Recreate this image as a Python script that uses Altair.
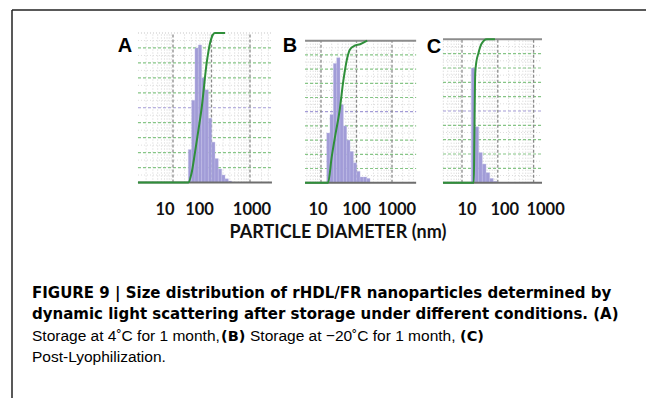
import altair as alt
import pandas as pd

W, H = 638, 390

# ---------------- data ----------------
# Panel A : 4 C for 1 month
A_edges = [25.0, 30.5, 37.2, 45.5, 55.5, 67.8, 82.8, 101, 123, 150, 184, 224, 274, 334]
A_heights = [22, 55, 90, 92, 70, 62, 43, 27, 16, 9, 5, 2.5, 1]
A_curve_x = [1.23, 25.0, 30.2, 37.2, 45.7, 55.6, 75.0, 91.2, 104.7, 123, 224]
A_curve_y = [0, 0, 6, 20, 35, 50, 80, 93, 98, 100, 100]

# Panel B : -20 C for 1 month
B_edges = [14.5, 17.9, 22.3, 27.7, 34.3, 42.6, 52.9, 65.6, 81.5, 101, 126, 156, 194, 240]
B_heights = [35, 48, 84, 88, 55, 40, 30, 22, 14, 8, 4, 4, 3]
B_curve_x = [3.55, 15.8, 20.0, 25.1, 33.1, 42.7, 55.0, 66.1, 89.1, 126, 200]
B_curve_y = [0, 0, 18, 33, 50, 72, 88, 94, 96.5, 97.5, 100]

# Panel C : post-lyophilization
C_edges = [18.2, 23.1, 29.2, 36.9, 46.8, 59.4, 74.8, 95.1]
C_heights = [80, 39, 21, 13, 7, 3, 1]
C_curve_x = [2.95, 21.4, 22.1, 23.4, 25.1, 28.5, 35.5, 49.0, 83.2]
C_curve_y = [0, 0, 30, 76, 84, 90, 97, 100, 100]

tick_values = [10, 100, 1000]
tick_labels = ["10", "100", "1000"]

caption_bold_1 = "FIGURE 9 | Size distribution of rHDL/FR nanoparticles determined by"
caption_bold_2 = "dynamic light scattering after storage under different conditions. (A)"
caption_3 = ["Storage at 4\u02daC for 1 month,", "(B)", "Storage at \u221220\u02daC for 1 month,", "(C)"]
caption_4 = "Post-Lyophilization."
x_title = "PARTICLE DIAMETER (nm)"

GREEN = "#2f8f3a"
BAR = "#a19cd7"


def panel(edges, heights, cx, cy, lo, hi, xr, yr, dxs, top_color, top_width, top_dash):
    xs = alt.Scale(type="log", domain=[1, 10000], range=xr)
    ys = alt.Scale(domain=[0, 100], range=yr)

    major_v = [v for v in [1, 10, 100, 1000, 10000] if lo <= v <= hi]
    minor_v = [k * 10 ** d for d in range(0, 4) for k in range(2, 10) if lo <= k * 10 ** d <= hi]

    def vrules(vals, color, dash, width):
        df = pd.DataFrame({"v": vals, "y0": 0, "y1": 100})
        return alt.Chart(df).mark_rule(color=color, strokeDash=dash, strokeWidth=width).encode(
            x=alt.X("v:Q", scale=xs, axis=None),
            y=alt.Y("y0:Q", scale=ys, axis=None),
            y2="y1:Q",
        )

    def hrules(vals, color, dash, width):
        df = pd.DataFrame({"h": vals, "lo": lo, "hi": hi})
        return alt.Chart(df).mark_rule(color=color, strokeDash=dash, strokeWidth=width).encode(
            x=alt.X("lo:Q", scale=xs, axis=None),
            x2="hi:Q",
            y=alt.Y("h:Q", scale=ys, axis=None),
        )

    minor = vrules(minor_v, "#d2d2d2", [1, 2], 1)
    major = vrules(major_v, "#8a8a8a", [3, 2], 1.3)
    h_minor = hrules([5, 15, 25, 35, 45, 55, 65, 75, 85, 95], "#dddddd", [1, 2], 1)
    h_green = hrules([10, 20, 30, 40, 60, 70, 80, 90], "#86c586", [3, 2], 1.2)
    h_mid = hrules([50], "#a39bd6", [3, 2], 1.2)
    top = hrules([100], top_color, top_dash, top_width)
    base = hrules([0], "#6e6e6e", [1, 0], 2)

    bars_df = pd.DataFrame({"x0": edges[:-1], "x1": edges[1:], "h": heights, "z": 0})
    bars = alt.Chart(bars_df).mark_rect(fill=BAR, stroke="#c2bfe8", strokeWidth=0.4).encode(
        x=alt.X("x0:Q", scale=xs, axis=None),
        x2="x1:Q",
        y=alt.Y("z:Q", scale=ys, axis=None),
        y2="h:Q",
    )

    curve_df = pd.DataFrame({"x": cx, "y": cy, "o": list(range(len(cx)))})
    curve = alt.Chart(curve_df).mark_line(color=GREEN, strokeWidth=2, interpolate="monotone").encode(
        x=alt.X("x:Q", scale=xs, axis=None),
        y=alt.Y("y:Q", scale=ys, axis=None),
        order="o:Q",
    )

    tick_layers = []
    for t, lab, d in zip(tick_values, tick_labels, dxs):
        tdf = pd.DataFrame({"t": [t], "lab": [lab]})
        tick_layers.append(alt.Chart(tdf).mark_text(
            dx=d, baseline="alphabetic", align="center", font="Lato", fontWeight="bold",
            fontSize=16.5, color="#111111",
        ).encode(
            x=alt.X("t:Q", scale=xs, axis=None),
            y=alt.value(207),
            text="lab:N",
        ))

    return alt.layer(minor, h_minor, h_green, h_mid, major, bars, top, base, curve, *tick_layers)


pA = panel(A_edges, A_heights, A_curve_x, A_curve_y, 1.23, 3715,
           [126.5, 280.5], [174.5, 25.0], [-8, -12, 2], "#c4c4c4", 1, [1, 2])
pB = panel(B_edges, B_heights, B_curve_x, B_curve_y, 3.55, 4786,
           [277.5, 419.5], [174.7, 32.7], [-3, 0, 5], "#8c8c8c", 2, [1, 0])
pC = panel(C_edges, C_heights, C_curve_x, C_curve_y, 2.95, 1718,
           [418.2, 561.4], [174.7, 31.3], [5, 7, 12], "#8c8c8c", 2, [1, 0])

one = pd.DataFrame({"a": [0]})

frame_top = alt.Chart(one).mark_rule(color="#222222", strokeWidth=1.5).encode(
    x=alt.value(4), x2=alt.value(W), y=alt.value(2))
frame_left = alt.Chart(one).mark_rule(color="#222222", strokeWidth=1.5).encode(
    x=alt.value(4), y=alt.value(2), y2=alt.value(H))

letters_df = pd.DataFrame({"t": ["A", "B", "C"], "x": [117, 282, 426], "y": [44, 44, 45]})
letters = alt.Chart(letters_df).mark_text(
    font="Liberation Sans", fontWeight="bold", fontSize=20, baseline="alphabetic", align="center", color="#000000"
).encode(x=alt.X("x:Q", scale=None), y=alt.Y("y:Q", scale=None), text="t:N")

xtitle = alt.Chart(one).mark_text(
    text=x_title, font="Lato", fontWeight="bold", fontSize=18, baseline="alphabetic", align="center", color="#111111"
).encode(x=alt.value(330), y=alt.value(230))

bold_lines = pd.DataFrame({
    "t": [caption_bold_1, caption_bold_2],
    "x": [24, 24],
    "y": [290, 311],
})
bold_txt = alt.Chart(bold_lines).mark_text(
    font="DejaVu Sans", fontWeight="bold", fontSize=15.0, baseline="alphabetic", align="left", color="#000000"
).encode(x=alt.X("x:Q", scale=None), y=alt.Y("y:Q", scale=None), text="t:N")

bold_refs = pd.DataFrame({
    "t": [caption_3[1], caption_3[3]],
    "x": [213, 452],
    "y": [333, 333],
})
bold_ref_txt = alt.Chart(bold_refs).mark_text(
    font="DejaVu Sans", fontWeight="bold", fontSize=14.5, baseline="alphabetic", align="left", color="#000000"
).encode(x=alt.X("x:Q", scale=None), y=alt.Y("y:Q", scale=None), text="t:N")

reg_df = pd.DataFrame({
    "t": [caption_3[0], caption_3[2], caption_4],
    "x": [24, 242, 24],
    "y": [333, 333, 354],
})
reg_txt = alt.Chart(reg_df).mark_text(
    font="Liberation Sans", fontSize=15.5, baseline="alphabetic", align="left", color="#000000"
).encode(x=alt.X("x:Q", scale=None), y=alt.Y("y:Q", scale=None), text="t:N")

decor = alt.layer(frame_top, frame_left, letters, xtitle, bold_txt, bold_ref_txt, reg_txt)

chart = alt.layer(pA, pB, pC, decor).resolve_scale(
    x="independent", y="independent"
).properties(
    width=W, height=H, padding=0, autosize=alt.AutoSizeParams(type="none"), background="white"
).configure_view(stroke=None)

chart.save("out.html", embed_options={"renderer": "svg", "actions": False})
